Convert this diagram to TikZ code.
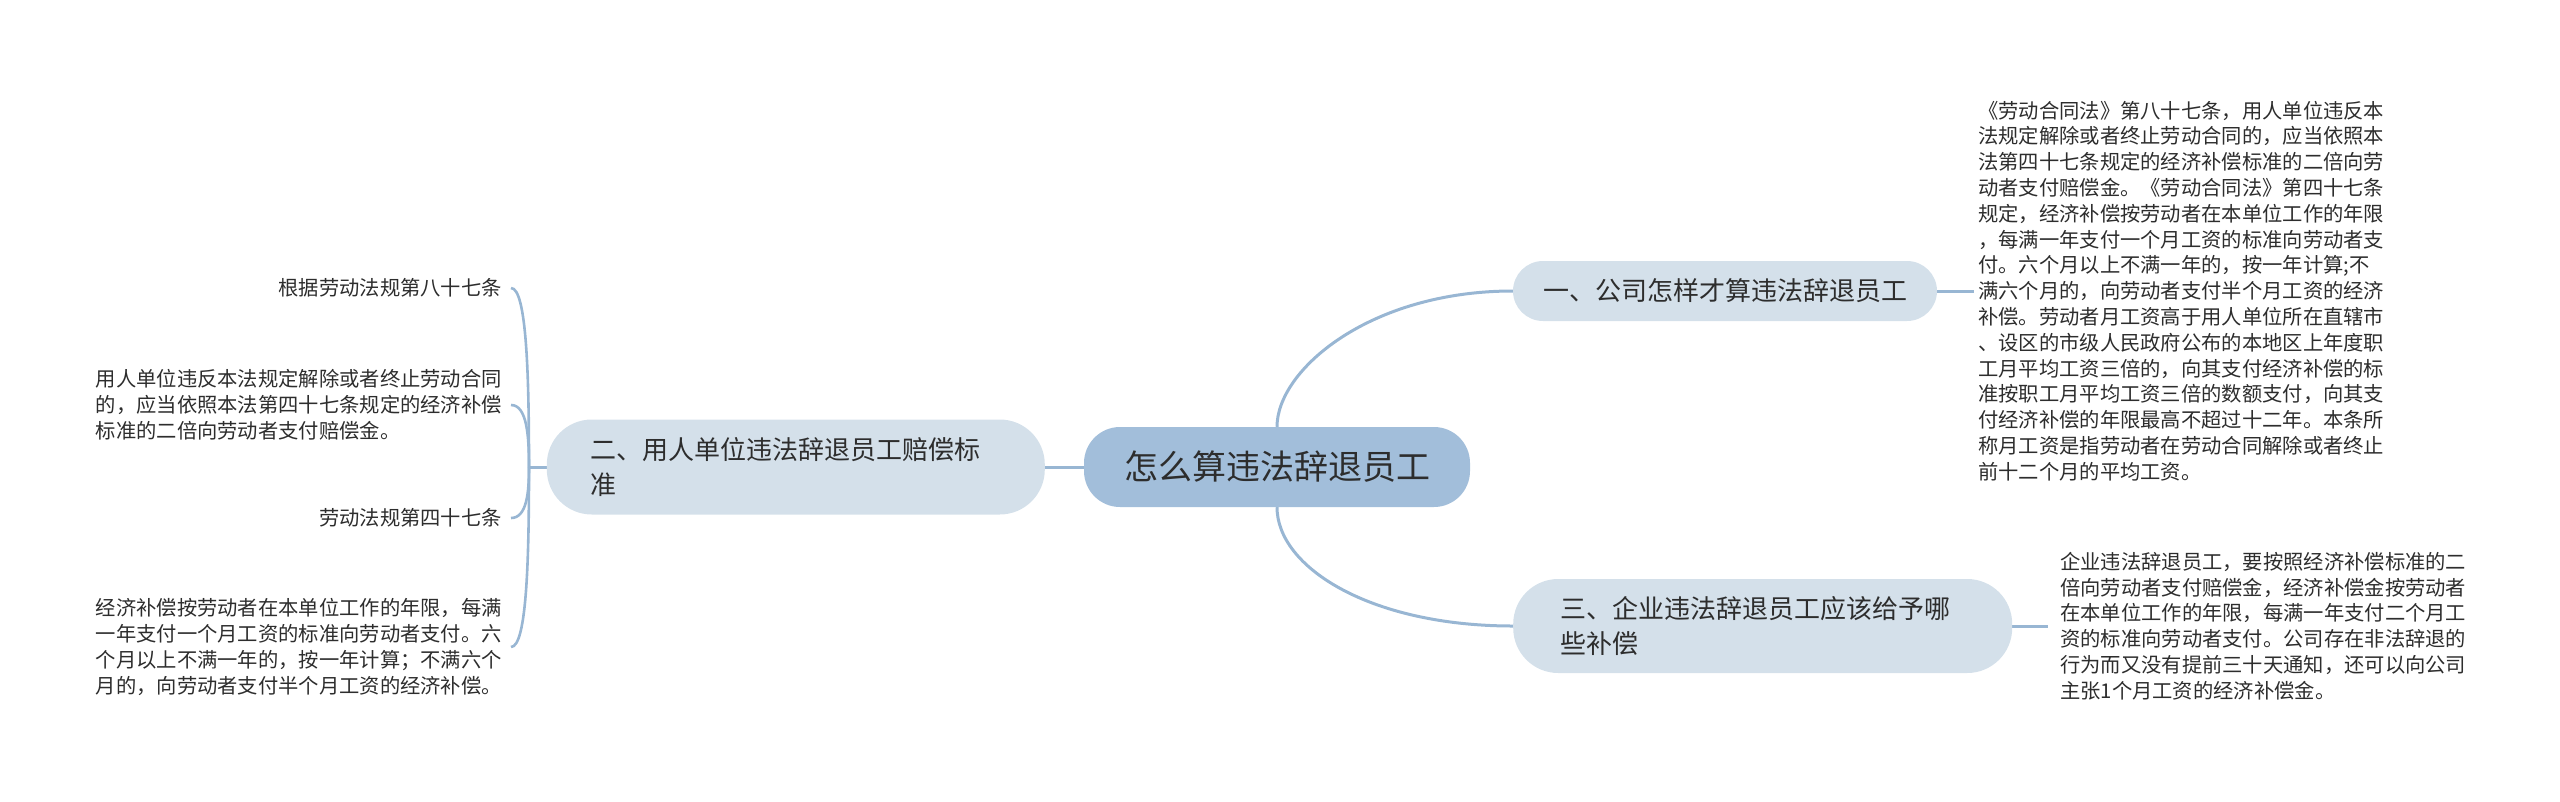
\documentclass[tikz,border=0pt]{standalone}
\usepackage{fontspec}
\newfontfamily\cjk{Noto Sans CJK SC}
\usetikzlibrary{backgrounds}
\definecolor{rootfill}{RGB}{162,190,218}
\definecolor{subfill}{RGB}{212,224,234}
\definecolor{linkc}{RGB}{152,182,211}
\definecolor{txt}{RGB}{45,45,45}
\tikzset{
  rootnode/.style={rectangle, rounded corners=36pt, fill=rootfill, minimum width=386pt, minimum height=80pt, inner sep=0pt, text=txt, font=\cjk\fontsize{34}{40}\selectfont},
  subnode/.style={rectangle, fill=subfill, inner ysep=0pt, text=txt, font=\cjk\fontsize{26}{35}\selectfont},
  leafnode/.style={align=left, inner ysep=2pt, text=txt, font=\cjk\fontsize{20.3}{25.8}\selectfont},
  link/.style={draw=linkc, line width=3pt},
  blink/.style={draw=linkc, line width=2.6pt}
}
\begin{document}
\begin{tikzpicture}[x=1pt,y=-1pt]
\useasboundingbox (0,0) rectangle (2560,801);
\node[rootnode] (root) at (1277,467) {怎么算违法辞退员工};
\node[subnode, rounded corners=30pt, minimum width=424pt, minimum height=60pt, inner xsep=0pt] (n1) at (1725,291) {一、公司怎样才算违法辞退员工};
\node[subnode, rounded corners=45pt, anchor=west, minimum height=94pt, text width=405pt, inner xsep=47pt, align=left] (n3) at (1513,626) {三、企业违法辞退员工应该给予哪\\些补偿};
\node[subnode, rounded corners=45pt, anchor=east, minimum height=95pt, text width=410pt, inner xsep=44pt, align=left] (n2) at (1045,467) {二、用人单位违法辞退员工赔偿标\\准};
\node[leafnode, anchor=west, inner xsep=4pt] (t1) at (1974,291) {《劳动合同法》第八十七条，用人单位违反本\\法规定解除或者终止劳动合同的，应当依照本\\法第四十七条规定的经济补偿标准的二倍向劳\\动者支付赔偿金。《劳动合同法》第四十七条\\规定，经济补偿按劳动者在本单位工作的年限\\，每满一年支付一个月工资的标准向劳动者支\\付。六个月以上不满一年的，按一年计算;不\\满六个月的，向劳动者支付半个月工资的经济\\补偿。劳动者月工资高于用人单位所在直辖市\\、设区的市级人民政府公布的本地区上年度职\\工月平均工资三倍的，向其支付经济补偿的标\\准按职工月平均工资三倍的数额支付，向其支\\付经济补偿的年限最高不超过十二年。本条所\\称月工资是指劳动者在劳动合同解除或者终止\\前十二个月的平均工资。};
\node[leafnode, anchor=west, inner xsep=12pt] (t3) at (2048,626) {企业违法辞退员工，要按照经济补偿标准的二\\倍向劳动者支付赔偿金，经济补偿金按劳动者\\在本单位工作的年限，每满一年支付二个月工\\资的标准向劳动者支付。公司存在非法辞退的\\行为而又没有提前三十天通知，还可以向公司\\主张1个月工资的经济补偿金。};
\node[leafnode, anchor=east, inner xsep=9pt] (c1) at (511,288) {根据劳动法规第八十七条};
\node[leafnode, anchor=east, inner xsep=9pt] (c2) at (511,405) {用人单位违反本法规定解除或者终止劳动合同\\的，应当依照本法第四十七条规定的经济补偿\\标准的二倍向劳动者支付赔偿金。};
\node[leafnode, anchor=east, inner xsep=9pt] (c3) at (511,518) {劳动法规第四十七条};
\node[leafnode, anchor=east, inner xsep=9pt] (c4) at (511,647) {经济补偿按劳动者在本单位工作的年限，每满\\一年支付一个月工资的标准向劳动者支付。六\\个月以上不满一年的，按一年计算；不满六个\\月的，向劳动者支付半个月工资的经济补偿。};
\coordinate (jn) at (529,467);
\begin{scope}[on background layer]
\draw[link] (root.north) .. controls +(0,-57) and +(-143,0) .. (n1.west);
\draw[link] (root.south) .. controls +(0,60) and +(-143,0) .. (n3.west);
\draw[link] (root.west) -- (n2.east);
\draw[link] (n1.east) -- (t1.west);
\draw[link] (n3.east) -- (t3.west);
\draw[link] (n2.west) -- (jn);
\draw[blink] (jn) .. controls +(0,-87) and +(16,0) .. (c1.east);
\draw[blink] (jn) .. controls +(0,-31) and +(16,0) .. (c2.east);
\draw[blink] (jn) .. controls +(0,25) and +(16,0) .. (c3.east);
\draw[blink] (jn) .. controls +(0,90) and +(16,0) .. (c4.east);
\end{scope}
\end{tikzpicture}
\end{document}
